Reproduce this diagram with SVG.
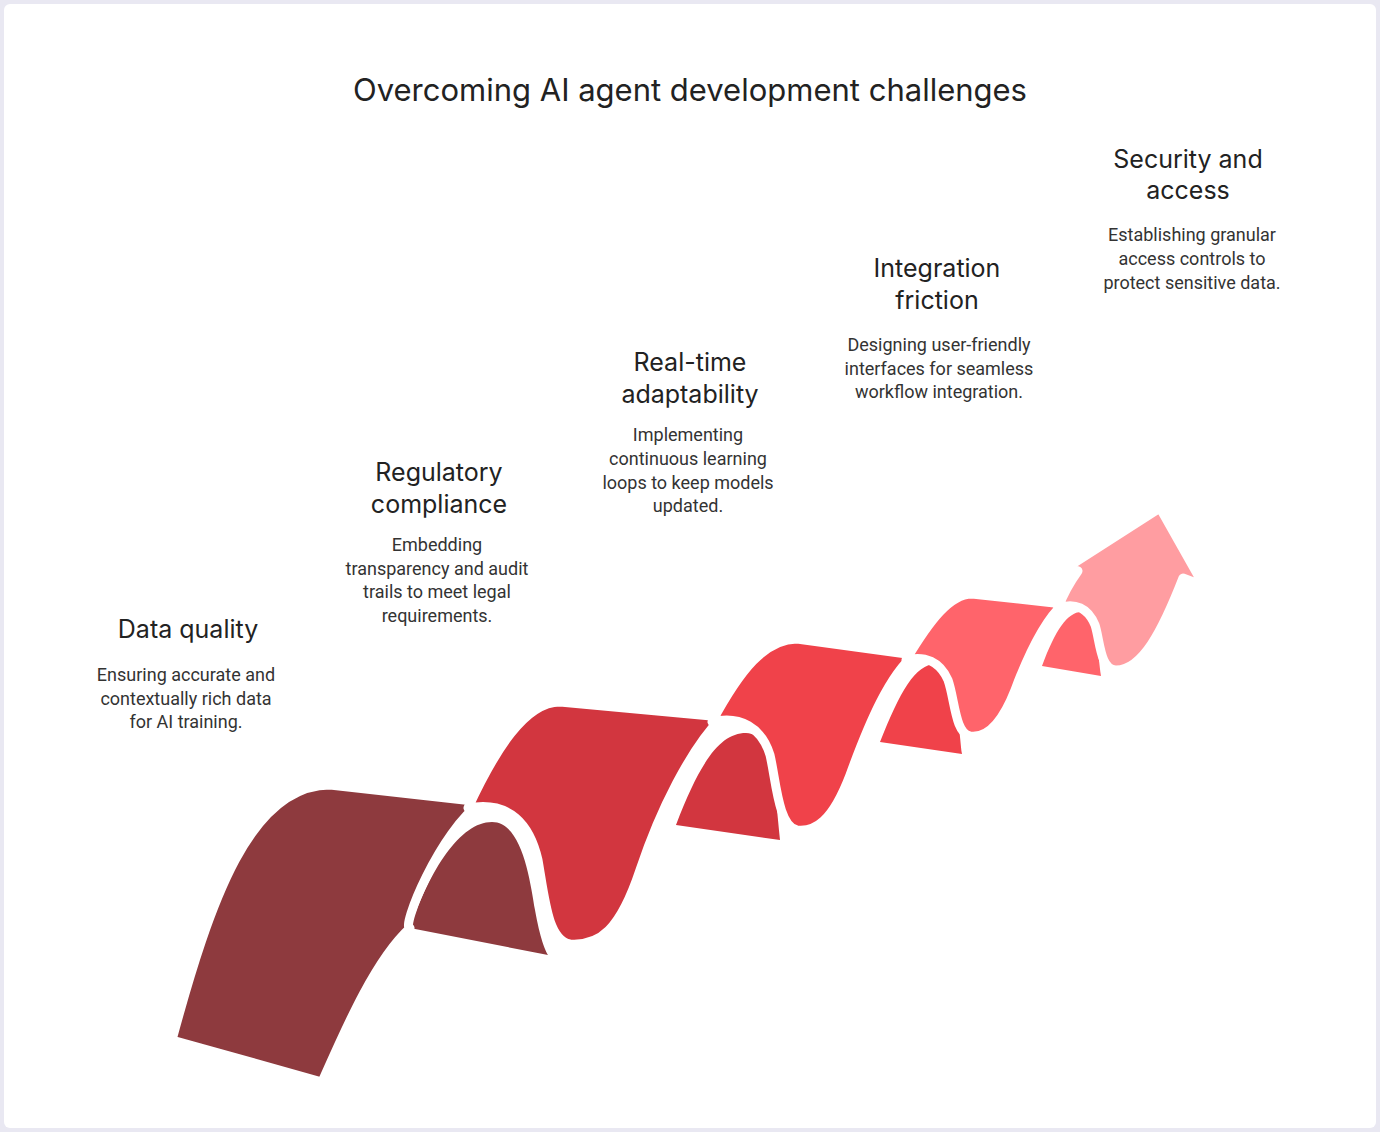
<svg xmlns="http://www.w3.org/2000/svg" width="1380" height="1132" viewBox="0 0 1380 1132">
<style>
.t{font-family:Inter,"Noto Sans",sans-serif;fill:#222;text-anchor:middle}
.h{font-size:25px}
.b{font-family:Roboto,"Liberation Sans",sans-serif;font-size:18px;fill:#333;text-anchor:middle}
.s{stroke:#fff;stroke-width:9;stroke-linejoin:round}
</style>
<rect width="1380" height="1132" fill="#e9e8f2"/>
<rect x="4" y="4" width="1372" height="1124" rx="6" fill="#fff"/>
<text class="t" x="690" y="101" font-size="31">Overcoming AI agent development challenges</text>
<g id="ribbon">
<path fill="#8E3A3E" d="M410,928 C430,870 460,822 492,822 C522,822 530,880 535,910 C540,938 545,950 548,955 Z"/>
<path fill="#8E3A3E" class="s" d="M172,1040 C210,900 250,785 330,785 L482,802 C440,830 400,930 410,928 C375,960 345,1030 322,1082 Z"/>
<path fill="#D2363F" class="s" d="M468,808 C495,750 525,702 560,702 L722,717 C690,750 660,810 640,870 C620,930 600,946 570,944 C548,940 545,900 538,860 C530,825 510,800 468,808 Z"/>
<path fill="#D2363F" d="M676,825 C700,762 720,733 746,733 C772,733 775,790 780,840 Z"/>
<path fill="#F0424A" class="s" d="M712,722 C740,670 765,639 797,639 L914,655 C890,675 870,720 850,775 C832,822 815,832 797,830 C778,826 776,780 770,755 C762,728 740,715 712,722 Z"/>
<path fill="#F0424A" d="M880,742 C900,692 915,664 936,664 C956,664 958,720 962,754 Z"/>
<path fill="#FF646B" class="s" d="M906,660 C930,620 950,594 972,594 L1063,604 C1045,620 1030,650 1015,690 C1000,728 985,738 970,736 C955,733 955,700 948,680 C940,662 925,655 906,660 Z"/>
<path fill="#FF646B" d="M1042,666 C1055,630 1068,612 1081,612 C1096,612 1098,655 1101,676 Z"/>
<path fill="#FF9DA1" class="s" d="M1058,608 C1064,592 1070,582 1078,571 L1068,567 L1160,508 L1204,586 L1183,578 C1162,632 1142,670 1116,670 C1100,670 1100,640 1095,625 C1088,608 1075,602 1058,608 Z"/>
</g>
<g id="n1"><text class="t h" x="188" y="638">Data quality</text>
<text class="b" x="186" y="681">Ensuring accurate and</text><text class="b" x="186" y="705">contextually rich data</text><text class="b" x="186" y="728">for AI training.</text></g>
<g id="n2"><text class="t h" x="439" y="481">Regulatory</text><text class="t h" x="439" y="513">compliance</text>
<text class="b" x="437" y="551">Embedding</text><text class="b" x="437" y="575">transparency and audit</text><text class="b" x="437" y="598">trails to meet legal</text><text class="b" x="437" y="622">requirements.</text></g>
<g id="n3"><text class="t h" x="690" y="371">Real-time</text><text class="t h" x="690" y="403">adaptability</text>
<text class="b" x="688" y="441">Implementing</text><text class="b" x="688" y="465">continuous learning</text><text class="b" x="688" y="489">loops to keep models</text><text class="b" x="688" y="512">updated.</text></g>
<g id="n4"><text class="t h" x="937" y="277">Integration</text><text class="t h" x="937" y="309">friction</text>
<text class="b" x="939" y="351">Designing user-friendly</text><text class="b" x="939" y="375">interfaces for seamless</text><text class="b" x="939" y="398">workflow integration.</text></g>
<g id="n5"><text class="t h" x="1188" y="168">Security and</text><text class="t h" x="1188" y="199">access</text>
<text class="b" x="1192" y="241">Establishing granular</text><text class="b" x="1192" y="265">access controls to</text><text class="b" x="1192" y="289">protect sensitive data.</text></g>
</svg>
